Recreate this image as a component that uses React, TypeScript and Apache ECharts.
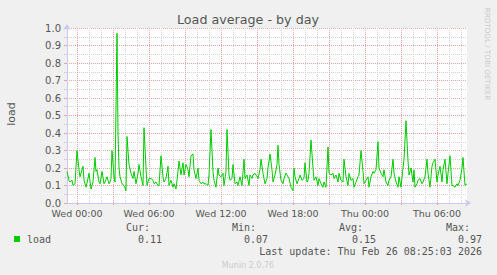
import React, { useEffect, useRef } from 'react';
import * as echarts from 'echarts';

// 5-minute slots across the plot (slot 10 = Wed 00:00), and the load read at each vertex
const slots = [
  0, 2, 3, 5, 6, 8, 10, 12, 13, 16, 17, 19, 21, 22, 24, 26, 28, 29, 30, 32, 33, 35, 37, 38, 40, 42, 43, 44, 45, 47, 48,
  50, 51, 52, 53, 55, 57, 59, 60, 62, 64, 66, 67, 69, 71, 72, 74, 76, 77, 79, 80, 82, 84, 86, 87, 89, 91, 92, 94, 96,
  97, 99, 101, 102, 104, 106, 107, 109, 111, 112, 114, 116, 117, 119, 121, 122, 124, 126, 127, 129, 131, 132, 134, 136,
  137, 139, 141, 142, 144, 146, 147, 149, 151, 152, 154, 156, 157, 159, 160, 162, 163, 165, 166, 168, 170, 171, 173,
  175, 177, 178, 180, 182, 183, 185, 186, 188, 190, 191, 193, 194, 196, 198, 200, 201, 203, 205, 206, 208, 210, 211,
  212, 214, 216, 217, 219, 221, 222, 224, 226, 227, 228, 230, 232, 233, 235, 237, 238, 240, 241, 242, 244, 246, 247,
  249, 251, 252, 254, 256, 257, 259, 261, 262, 264, 266, 267, 269, 271, 272, 274, 276, 277, 279, 281, 282, 284, 286,
  287, 289, 291, 292, 294, 296, 297, 299, 301, 302, 304, 306, 307, 309, 311, 312, 314, 316, 317, 319, 321, 322, 324,
  326, 327, 329, 331, 332, 334, 336, 337, 339, 341, 342, 344, 346, 347, 348, 350, 351, 353, 355, 356, 358, 360, 361,
  363, 365, 366, 368, 370, 371, 373, 375, 376, 378, 380, 381, 383, 385, 386, 388, 390, 391, 393, 395, 396, 398, 400,
];
const loadValues = [
  0.18, 0.13, 0.12, 0.13, 0.10, 0.11, 0.30, 0.19, 0.15, 0.21, 0.13, 0.09, 0.14, 0.17, 0.08, 0.12, 0.26, 0.18, 0.19, 0.12, 0.11, 0.18, 0.11, 0.12, 0.15, 0.11, 0.12, 0.14, 0.30, 0.15, 0.12,
  0.97, 0.40, 0.20, 0.15, 0.11, 0.10, 0.07, 0.38, 0.22, 0.17, 0.14, 0.18, 0.11, 0.17, 0.22, 0.15, 0.10, 0.43, 0.20, 0.10, 0.14, 0.14, 0.13, 0.11, 0.12, 0.10, 0.10, 0.27, 0.15,
  0.12, 0.14, 0.21, 0.10, 0.13, 0.09, 0.11, 0.08, 0.18, 0.24, 0.16, 0.23, 0.16, 0.22, 0.19, 0.15, 0.27, 0.28, 0.19, 0.14, 0.20, 0.13, 0.11, 0.12,
  0.11, 0.11, 0.10, 0.16, 0.42, 0.18, 0.13, 0.09, 0.20, 0.16, 0.15, 0.17, 0.10, 0.18, 0.42, 0.16, 0.13, 0.14, 0.22, 0.11, 0.12, 0.10, 0.15,
  0.10, 0.25, 0.14, 0.16, 0.10, 0.16, 0.14, 0.16, 0.17, 0.15, 0.14, 0.19, 0.25, 0.17, 0.11, 0.14, 0.20, 0.28, 0.19, 0.12, 0.16, 0.22, 0.33,
  0.22, 0.13, 0.11, 0.14, 0.17, 0.15, 0.14, 0.09, 0.07, 0.20, 0.15, 0.11, 0.14, 0.16, 0.13, 0.14, 0.23, 0.12, 0.13, 0.17, 0.36, 0.20, 0.13,
  0.15, 0.10, 0.14, 0.11, 0.09, 0.12, 0.09, 0.32, 0.17, 0.16, 0.17, 0.14, 0.16, 0.12, 0.17, 0.13, 0.12, 0.25, 0.15, 0.10, 0.17, 0.13, 0.14,
  0.09, 0.12, 0.15, 0.16, 0.30, 0.18, 0.11, 0.13, 0.15, 0.09, 0.15, 0.18, 0.17, 0.19, 0.35, 0.20, 0.17, 0.15, 0.19, 0.12, 0.10, 0.13, 0.15,
  0.25, 0.17, 0.12, 0.09, 0.15, 0.09, 0.20, 0.25, 0.47, 0.24, 0.16, 0.20, 0.12, 0.19, 0.09, 0.11, 0.13, 0.14, 0.11, 0.12, 0.15, 0.25, 0.17,
  0.09, 0.21, 0.23, 0.25, 0.12, 0.16, 0.21, 0.12, 0.19, 0.25, 0.11, 0.17, 0.27, 0.10, 0.10, 0.09, 0.11, 0.10, 0.13, 0.20, 0.26, 0.10, 0.11,
];

const slotCount = 400;
const firstHourSlot = 10;
const xLabelSlots = [10, 82, 154, 226, 298, 370];
const xLabels = ['Wed 00:00', 'Wed 06:00', 'Wed 12:00', 'Wed 18:00', 'Thu 00:00', 'Thu 06:00'];
const statNames = ['Cur:', 'Min:', 'Avg:', 'Max:'];
const statValues = ['0.11', '0.07', '0.15', '0.97'];
const seriesName = 'load';
const titleText = 'Load average - by day';
const lastUpdate = 'Last update: Thu Feb 26 08:25:03 2026';
const footer = 'Munin 2.0.76';
const sideText = 'RRDTOOL / TOBI OETIKER';

const RED = '#EBA3A3';
const GRAY = '#D2D2D2';
const AXIS = '#C9C9F2';
const TEXT = '#555555';
const GREEN = '#00CC00';

export default function App() {
  const ref = useRef<HTMLDivElement>(null);
  useEffect(() => {
    if (!ref.current) return;
    const chart = echarts.init(ref.current, undefined, { renderer: 'svg' });
    const cats = Array.from({ length: slotCount + 1 }, (_, i) => String(i));
    const isMinor = (i: number) => (i - firstHourSlot) % 12 === 0 && (i - firstHourSlot) % 36 !== 0;
    const isMajor = (i: number) => (i - firstHourSlot) % 36 === 0;
    const data = slots.map((s, k) => [s, loadValues[k]]);
    const statX = [150, 256, 363, 470];
    const valX = [162, 268, 376, 482];
    const mono = 'DejaVu Sans Mono';
    const sans = 'DejaVu Sans';
    chart.setOption({
      animation: false,
      backgroundColor: '#F0F0F0',
      grid: { left: 67, top: 28, width: 400, height: 175, show: true, backgroundColor: '#FFFFFF', borderWidth: 0 },
      xAxis: [
        {
          type: 'category',
          data: cats,
          boundaryGap: false,
          position: 'bottom',
          axisLine: { show: true, lineStyle: { color: AXIS, width: 1 }, symbol: ['none', 'arrow'], symbolSize: [6, 6], symbolOffset: [0, 4] },
          axisTick: { show: true, interval: (i: number) => isMajor(i), length: 2, lineStyle: { color: RED } },
          axisLabel: {
            show: true,
            interval: (i: number) => xLabelSlots.includes(i),
            formatter: (_v: string, i: number) => xLabels[xLabelSlots.indexOf(i)] ?? '',
            fontFamily: sans,
            fontSize: 9.5,
            color: TEXT,
            margin: 5,
          },
          splitLine: { show: true, interval: (i: number) => isMajor(i), lineStyle: { color: RED, type: [1, 1], width: 1 } },
        },
        {
          type: 'category',
          data: cats,
          boundaryGap: false,
          position: 'top',
          axisLine: { show: false },
          axisTick: { show: false },
          axisLabel: { show: false },
          splitLine: { show: true, interval: (i: number) => isMinor(i), lineStyle: { color: GRAY, type: [1, 1], width: 1 } },
        },
      ],
      yAxis: {
        type: 'value',
        min: 0,
        max: 1,
        interval: 0.1,
        axisLine: { show: true, lineStyle: { color: AXIS, width: 1 }, symbol: ['none', 'arrow'], symbolSize: [6, 6], symbolOffset: [0, 4] },
        axisTick: { show: true, length: 3, lineStyle: { color: RED } },
        minorTick: { show: true, splitNumber: 2, length: 3, lineStyle: { color: GRAY } },
        axisLabel: { formatter: (v: number) => v.toFixed(1), fontFamily: sans, fontSize: 10, color: TEXT, margin: 6 },
        splitLine: { show: true, lineStyle: { color: RED, type: [1, 1], width: 1 } },
        minorSplitLine: { show: true, lineStyle: { color: GRAY, type: [1, 1], width: 1 } },
      },
      series: [
        {
          name: seriesName,
          type: 'line',
          xAxisIndex: 0,
          yAxisIndex: 0,
          data,
          showSymbol: false,
          symbol: 'none',
          lineStyle: { color: GREEN, width: 1 },
          itemStyle: { color: GREEN },
          z: 10,
        },
      ],
      graphic: [
        { type: 'text', x: 248, y: 19, style: { text: titleText, fontFamily: sans, fontSize: 12.7, fill: TEXT, textAlign: 'center', textVerticalAlign: 'middle' } },
        { type: 'text', x: 11, y: 114, rotation: Math.PI / 2, style: { text: seriesName, fontFamily: sans, fontSize: 11, fill: TEXT, textAlign: 'center', textVerticalAlign: 'middle' } },
        { type: 'text', x: 487, y: 54, rotation: -Math.PI / 2, style: { text: sideText, fontFamily: sans, fontSize: 7.2, fill: '#CCCCCC', textAlign: 'center', textVerticalAlign: 'middle' } },
        { type: 'rect', shape: { x: 14, y: 236, width: 6, height: 6 }, style: { fill: GREEN } },
        { type: 'text', x: 27, y: 239, style: { text: seriesName, fontFamily: mono, fontSize: 10, fill: TEXT, textAlign: 'left', textVerticalAlign: 'middle' } },
        ...statNames.map((n, k) => ({ type: 'text', x: statX[k], y: 227, style: { text: n, fontFamily: mono, fontSize: 10, fill: TEXT, textAlign: 'right', textVerticalAlign: 'middle' } })),
        ...statValues.map((v, k) => ({ type: 'text', x: valX[k], y: 239, style: { text: v, fontFamily: mono, fontSize: 10, fill: TEXT, textAlign: 'right', textVerticalAlign: 'middle' } })),
        { type: 'text', x: 482, y: 251, style: { text: lastUpdate, fontFamily: mono, fontSize: 10, fill: TEXT, textAlign: 'right', textVerticalAlign: 'middle' } },
        { type: 'text', x: 248, y: 265, style: { text: footer, fontFamily: sans, fontSize: 8, fill: '#CCCCCC', textAlign: 'center', textVerticalAlign: 'middle' } },
      ],
    });
    return () => chart.dispose();
  }, []);
  return <div ref={ref} style={{ position: 'absolute', left: 0, top: 0, width: 497, height: 275 }} />;
}
